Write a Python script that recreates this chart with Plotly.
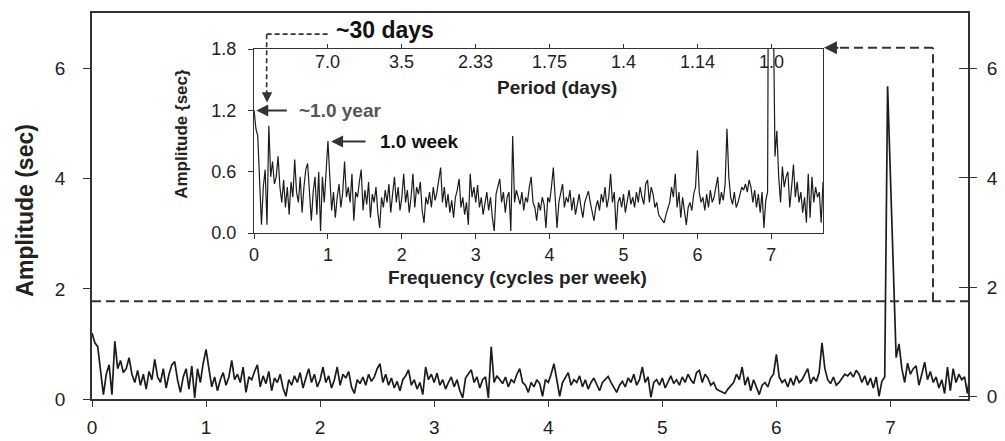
import plotly.graph_objects as go

# ---------------- data ----------------
freq_step = 0.025
amplitude = [
    # 0.000 - 0.975
    1.20, 1.02, 0.95, 0.55, 0.08, 0.45, 0.62, 0.08, 1.05, 0.55,
    0.70, 0.48, 0.55, 0.75, 0.45, 0.30, 0.52, 0.25, 0.45, 0.18,
    0.50, 0.35, 0.72, 0.40, 0.30, 0.55, 0.20, 0.45, 0.62, 0.68,
    0.35, 0.12, 0.40, 0.55, 0.18, 0.60, 0.02, 0.55, 0.30, 0.65,
    # 1.000 - 1.975
    0.90, 0.55, 0.22, 0.40, 0.15, 0.35, 0.48, 0.25, 0.40, 0.70,
    0.35, 0.45, 0.30, 0.58, 0.12, 0.40, 0.35, 0.50, 0.62, 0.22,
    0.42, 0.28, 0.50, 0.15, 0.38, 0.30, 0.45, 0.20, 0.05, 0.35,
    0.25, 0.42, 0.30, 0.48, 0.20, 0.38, 0.55, 0.30, 0.45, 0.22,
    # 2.000 - 2.975
    0.35, 0.58, 0.30, 0.42, 0.20, 0.35, 0.58, 0.25, 0.45, 0.38,
    0.50, 0.22, 0.10, 0.35, 0.28, 0.40, 0.25, 0.45, 0.32, 0.40,
    0.55, 0.64, 0.30, 0.45, 0.25, 0.38, 0.20, 0.32, 0.15, 0.35,
    0.42, 0.53, 0.25, 0.35, 0.18, 0.30, 0.08, 0.58, 0.35, 0.45,
    # 3.000 - 3.975
    0.30, 0.47, 0.25, 0.35, 0.18, 0.30, 0.40, 0.22, 0.35, 0.15,
    0.02, 0.38, 0.45, 0.53, 0.30, 0.40, 0.20, 0.35, 0.40, 0.02,
    0.95, 0.30, 0.42, 0.35, 0.28, 0.40, 0.22, 0.35, 0.30, 0.45,
    0.55, 0.30, 0.25, 0.12, 0.30, 0.22, 0.35, 0.28, 0.05, 0.35,
    # 4.000 - 4.975
    0.30, 0.45, 0.64, 0.35, 0.05, 0.30, 0.40, 0.48, 0.25, 0.35,
    0.30, 0.42, 0.22, 0.35, 0.18, 0.30, 0.38, 0.25, 0.15, 0.30,
    0.35, 0.41, 0.30, 0.20, 0.12, 0.25, 0.32, 0.22, 0.38, 0.30,
    0.45, 0.25, 0.35, 0.58, 0.30, 0.40, 0.03, 0.30, 0.35, 0.25,
    # 5.000 - 5.975
    0.38, 0.20, 0.30, 0.42, 0.28, 0.35, 0.25, 0.40, 0.30, 0.45,
    0.35, 0.28, 0.48, 0.52, 0.30, 0.45, 0.38, 0.25, 0.30, 0.18,
    0.15, 0.12, 0.10, 0.18, 0.25, 0.30, 0.45, 0.35, 0.58, 0.25,
    0.40, 0.15, 0.35, 0.20, 0.08, 0.25, 0.30, 0.22, 0.38, 0.45,
    # 6.000 - 6.975
    0.81, 0.40, 0.30, 0.35, 0.22, 0.38, 0.25, 0.42, 0.30, 0.35,
    0.45, 0.55, 0.28, 0.40, 0.32, 0.48, 1.02, 0.55, 0.35, 0.28,
    0.40, 0.25, 0.30, 0.38, 0.45, 0.42, 0.48, 0.40, 0.52, 0.45,
    0.30, 0.42, 0.25, 0.38, 0.20, 0.40, 0.05, 0.32, 0.40, 5.68,
    # 7.000 - 7.700
    4.00, 2.40, 0.75, 1.00, 0.55, 0.30, 0.65, 0.45, 0.55, 0.60,
    0.25, 0.45, 0.67, 0.35, 0.50, 0.30, 0.40, 0.20, 0.35, 0.10,
    0.58, 0.15, 0.55, 0.30, 0.45, 0.35, 0.40, 0.10, 0.50,
]
frequency = [round(i * freq_step, 3) for i in range(len(amplitude))]

main_xticks = [0, 1, 2, 3, 4, 5, 6, 7]
main_yticks = [0, 2, 4, 6]
inset_xticks = [0, 1, 2, 3, 4, 5, 6, 7]
inset_yticks = [0.0, 0.6, 1.2, 1.8]
period_ticks = [1, 2, 3, 4, 5, 6, 7]
period_labels = ["7.0", "3.5", "2.33", "1.75", "1.4", "1.14", "1.0"]
threshold = 1.775
inset_ymax = 1.8

# ---------------- styling ----------------
FONT = "Arial, 'Liberation Sans', Helvetica, sans-serif"
INK = "#1c1c1c"
FRAME = "#333333"

fig = go.Figure()
fig.add_trace(go.Scatter(x=frequency, y=amplitude, mode="lines",
                         line=dict(color=INK, width=1.7),
                         xaxis="x", yaxis="y", hoverinfo="skip", showlegend=False))
fig.add_trace(go.Scatter(x=frequency, y=amplitude, mode="lines",
                         line=dict(color=INK, width=1.2),
                         xaxis="x2", yaxis="y2", hoverinfo="skip", showlegend=False))
# helper traces so overlay axes are drawn
for xa, ya in [("x3", "y2"), ("x", "y4"), ("x", "y5")]:
    fig.add_trace(go.Scatter(x=[frequency[1]], y=[amplitude[1]], mode="markers",
                             marker=dict(opacity=0), xaxis=xa, yaxis=ya,
                             hoverinfo="skip", showlegend=False))

axis_common = dict(showgrid=False, zeroline=False, showline=True,
                   linecolor=FRAME, tickcolor=FRAME)

fig.update_layout(
    width=1005, height=441,
    margin=dict(l=92, r=37, t=3, b=41.5),
    paper_bgcolor="white", plot_bgcolor="white",
    font=dict(family=FONT, color="#222"),
    showlegend=False,
    xaxis=dict(**axis_common, domain=[0, 1], range=[0, 7.68], tickvals=main_xticks,
               ticks="outside", ticklen=6, linewidth=1.6, mirror=True,
               tickfont=dict(size=19), ticklabelstandoff=4, anchor="y"),
    yaxis=dict(**axis_common, domain=[0, 1], range=[0, 7.01], tickvals=main_yticks,
               ticks="outside", ticklen=7, linewidth=1.6, mirror=True,
               tickfont=dict(size=19), ticklabelstandoff=14, anchor="x"),
    yaxis4=dict(showgrid=False, zeroline=False, showline=False, overlaying="y",
                side="right", anchor="x", range=[-0.05, 7.02], tickvals=main_yticks,
                ticks="outside", ticklen=8, tickcolor=FRAME, tickfont=dict(size=19),
                ticklabelstandoff=6),
    yaxis5=dict(showgrid=False, zeroline=False, showline=False, overlaying="y",
                side="right", anchor="x", range=[-0.05, 7.02], tickvals=main_yticks,
                ticks="inside", ticklen=9, tickcolor=FRAME, showticklabels=False),
    xaxis2=dict(**axis_common, domain=[0.185, 0.8345], anchor="y2", range=[0, 7.7],
                tickvals=inset_xticks, ticks="outside", ticklen=5, linewidth=1.3,
                tickfont=dict(size=18)),
    xaxis3=dict(**axis_common, overlaying="x2", side="top", anchor="y2", range=[0, 7.7],
                tickvals=period_ticks, ticks="outside", ticklen=4, linewidth=1.3,
                showticklabels=False),
    yaxis2=dict(**axis_common, domain=[0.430, 0.9067], anchor="x2",
                range=[0, inset_ymax + 0.0005],
                tickvals=inset_yticks, ticktext=[f"{v:.1f}" for v in inset_yticks],
                ticks="outside", ticklen=5, linewidth=1.3, mirror=True,
                tickfont=dict(size=18), ticklabelstandoff=8),
)

# ---------------- dashed guides ----------------
shapes = [
    dict(type="line", xref="x", yref="y", x0=0, x1=7.68, y0=threshold, y1=threshold,
         line=dict(color=FRAME, width=2, dash="9px,5px")),
    dict(type="line", xref="x", yref="y", x0=7.373, x1=7.373, y0=threshold, y1=6.377,
         line=dict(color=FRAME, width=2, dash="9px,5px")),
    dict(type="line", xref="x", yref="y", x0=7.373, x1=6.50, y0=6.377, y1=6.377,
         line=dict(color=FRAME, width=2, dash="9px,5px")),
    dict(type="line", xref="x", yref="y", x0=1.531, x1=2.09, y0=6.626, y1=6.626,
         line=dict(color=FRAME, width=1.6, dash="5px,3px")),
    dict(type="line", xref="x", yref="y", x0=1.531, x1=1.531, y0=6.626, y1=5.56,
         line=dict(color=FRAME, width=1.6, dash="5px,3px")),
]
fig.update_layout(shapes=shapes)

ann = []
# period tick labels (inside the inset, under its top axis)
for f, lab in zip(period_ticks, period_labels):
    ann.append(dict(xref="x2", yref="y2", x=f, y=inset_ymax, yanchor="top", xanchor="center",
                    yshift=-1, text=lab, showarrow=False, font=dict(size=18, color="#222")))
# arrowheads
ann.append(dict(xref="x", yref="y", x=6.417, y=6.377, ax=16, ay=0, text="",
                showarrow=True, arrowhead=2, arrowsize=1.3, arrowwidth=2, arrowcolor=FRAME))
ann.append(dict(xref="x2", yref="y2", x=0.176, y=1.276, ax=0, ay=-12, text="",
                showarrow=True, arrowhead=2, arrowsize=1.3, arrowwidth=1.6, arrowcolor=FRAME))
ann.append(dict(xref="x2", yref="y2", x=0.03, y=1.2, ax=32, ay=0, text="",
                showarrow=True, arrowhead=2, arrowsize=1.2, arrowwidth=2, arrowcolor=FRAME))
ann.append(dict(xref="x2", yref="y2", x=1.042, y=0.895, ax=36, ay=0, text="",
                showarrow=True, arrowhead=2, arrowsize=1.2, arrowwidth=2, arrowcolor=FRAME))
# labels
ann.append(dict(xref="x2", yref="y2", x=0.582, y=1.2, xanchor="left", yanchor="middle",
                text="<b>~1.0 year</b>", showarrow=False, font=dict(size=19, color="#555")))
ann.append(dict(xref="x2", yref="y2", x=1.678, y=0.895, xanchor="left", yanchor="middle",
                text="<b>1.0 week</b>", showarrow=False, font=dict(size=19, color="#111")))
ann.append(dict(xref="paper", yref="paper", x=0.335, y=0.957, xanchor="center", yanchor="middle",
                text="<b>~30 days</b>", showarrow=False, font=dict(size=23, color="#111")))
ann.append(dict(xref="paper", yref="paper", x=0.5308, y=0.8058, xanchor="center", yanchor="middle",
                text="<b>Period (days)</b>", showarrow=False, font=dict(size=19, color="#222")))
ann.append(dict(xref="paper", yref="paper", x=0.4863, y=0.314, xanchor="center", yanchor="middle",
                text="<b>Frequency (cycles per week)</b>", showarrow=False,
                font=dict(size=19, color="#222")))
ann.append(dict(xref="paper", yref="paper", x=0.1027, y=0.687, xanchor="center", yanchor="middle",
                text="<b>Amplitude {sec}</b>", textangle=-90, showarrow=False,
                font=dict(size=17, color="#222")))
ann.append(dict(xref="paper", yref="paper", x=-0.0765, y=0.4905, xanchor="center", yanchor="middle",
                text="<b>Amplitude (sec)</b>", textangle=-90, showarrow=False,
                font=dict(size=23, color="#222")))
fig.update_layout(annotations=ann)

fig.write_html("out.html")
